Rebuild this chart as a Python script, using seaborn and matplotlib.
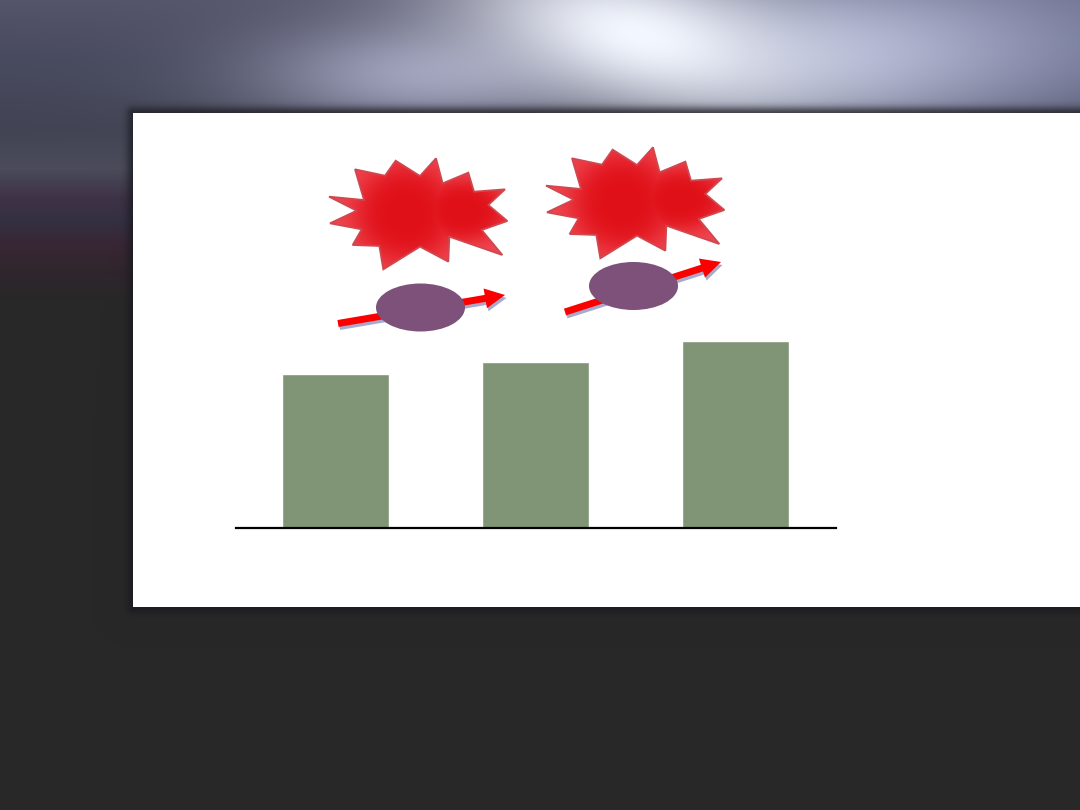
import numpy as np
import pandas as pd
import matplotlib
matplotlib.use("Agg")
import matplotlib.pyplot as plt
from matplotlib.patches import Polygon, Ellipse, FancyArrow
from matplotlib.patches import Rectangle
import seaborn as sns

categories = ["A", "B", "C"]
values = [154, 166, 187]

W, H = 1080, 810
sns.set_theme(style="white")
fig = plt.figure(figsize=(W / 100, H / 100), dpi=100, facecolor="#282828")

yy, xx = np.mgrid[0:H, 0:W].astype(float)
py = [0, 60, 130, 168, 198, 220, 245, 275, 300, 810]
r = [84, 72, 66, 74, 62, 52, 56, 46, 40, 40]
g = [84, 74, 68, 76, 50, 48, 38, 38, 40, 40]
b = [106, 94, 84, 90, 70, 66, 52, 44, 40, 40]
img = np.dstack([np.interp(yy, py, c) for c in (r, g, b)])


def add_light(cx, cy, sx, sy, col, amt, shear=0.0):
    m = amt * np.exp(-((xx - cx - shear * (yy - cy)) / sx) ** 2 - ((yy - cy) / sy) ** 2)[..., None]
    return img * (1 - m) + m * np.array(col, float)


img = add_light(1040, 40, 240, 90, (118, 122, 155), .9)
img = add_light(420, 75, 170, 55, (170, 172, 200), .85)
img = add_light(860, 50, 190, 75, (178, 183, 212), .9)
img = add_light(640, 35, 165, 85, (243, 247, 255), 1.0, shear=0.9)
# soft panel shadow
dx = np.maximum(133 - xx, 0)
dy = np.maximum(np.maximum(113 - yy, yy - 607), 0)
dist = np.hypot(dx, dy)
shadow = (.7 * np.exp(-(dist / 7.0) ** 2))[..., None]
img = img * (1 - shadow) + shadow * np.array([25, 25, 30.])
bg = fig.add_axes([0, 0, 1, 1], zorder=0)
bg.imshow(np.clip(img, 0, 255).astype(np.uint8), extent=(0, W, H, 0), aspect="auto", interpolation="bilinear")
bg.add_patch(Rectangle((133, 113), W, 494, color="white", lw=0))
bg.set_xlim(0, W)
bg.set_ylim(H, 0)
bg.axis("off")

# bar chart
left, right, base_y, top_y = 235.5, 835.5, 527.5, 327.5
ax = fig.add_axes([left / W, 1 - base_y / H, (right - left) / W, (base_y - top_y) / H], zorder=1)
df = pd.DataFrame({"cat": categories, "val": values})
sns.barplot(data=df, x="cat", y="val", color="#7f9575", saturation=1, width=0.532, ax=ax)
ax.set_xlim(-0.5, 2.5)
ax.set_ylim(0, base_y - top_y)
ax.patch.set_alpha(0)
ax.set_xlabel("")
ax.set_ylabel("")
ax.set_xticks([])
ax.set_yticks([])
for s in ["top", "left", "right"]:
    ax.spines[s].set_visible(False)
ax.spines["bottom"].set_color("black")
ax.spines["bottom"].set_linewidth(1.6)

# decorations
ov = fig.add_axes([0, 0, 1, 1], zorder=2)
star = np.array([(57, 170), (162, 180), (135, 88), (225, 107), (257, 62), (330, 108), (378, 55), (398, 130),
                 (475, 98), (492, 155), (585, 148), (535, 195), (592, 243), (515, 270), (577, 345), (418, 290),
                 (415, 365), (330, 320), (220, 388), (208, 318), (128, 315), (155, 268), (60, 250), (140, 212)],
                float) / 3 + (310, 140)
# smooth rim-to-core shading, clipped to the star outline
sy_, sx_ = np.mgrid[150:275, 320:515].astype(float)
core = np.maximum(np.exp(-(((sx_ - 405) / 52) ** 2 + ((sy_ - 213) / 50) ** 2) ** 2),
                  np.exp(-(((sx_ - 462) / 46) ** 2 + ((sy_ - 210) / 32) ** 2) ** 2))[..., None]
shade = (1 - core) * np.array([240, 70, 80.]) + core * np.array([224, 16, 24.])
for dx_, dy_ in [(0, 0), (217, -11)]:
    pts = star + (dx_, dy_)
    outline = Polygon(pts, closed=True, fc="none", ec="#cf4850", lw=1.3, zorder=3)
    ov.add_patch(outline)
    im = ov.imshow(shade.astype(np.uint8), extent=(320 + dx_, 515 + dx_, 275 + dy_, 150 + dy_),
                   aspect="auto", interpolation="bilinear", zorder=2)
    im.set_clip_path(outline)

for (x0, y0, x1, y1) in [(338, 323.5, 505, 295), (565, 312, 721, 262)]:
    for off, col in [((1.5, 3), "#a9a9cc"), ((0, 0), "#fc0000")]:
        ov.add_patch(FancyArrow(x0 + off[0], y0 + off[1], x1 - x0, y1 - y0, width=7, head_width=20,
                                head_length=20, length_includes_head=True, fc=col, ec="none", zorder=4))
ov.add_patch(Ellipse((420.5, 307.5), 89, 48, fc="#7d5179", ec="none", zorder=5))
ov.add_patch(Ellipse((633.5, 286), 89, 48, fc="#7d5179", ec="none", zorder=5))
ov.set_xlim(0, W)
ov.set_ylim(H, 0)
ov.axis("off")

fig.savefig("out.png", dpi=100, facecolor=fig.get_facecolor())
